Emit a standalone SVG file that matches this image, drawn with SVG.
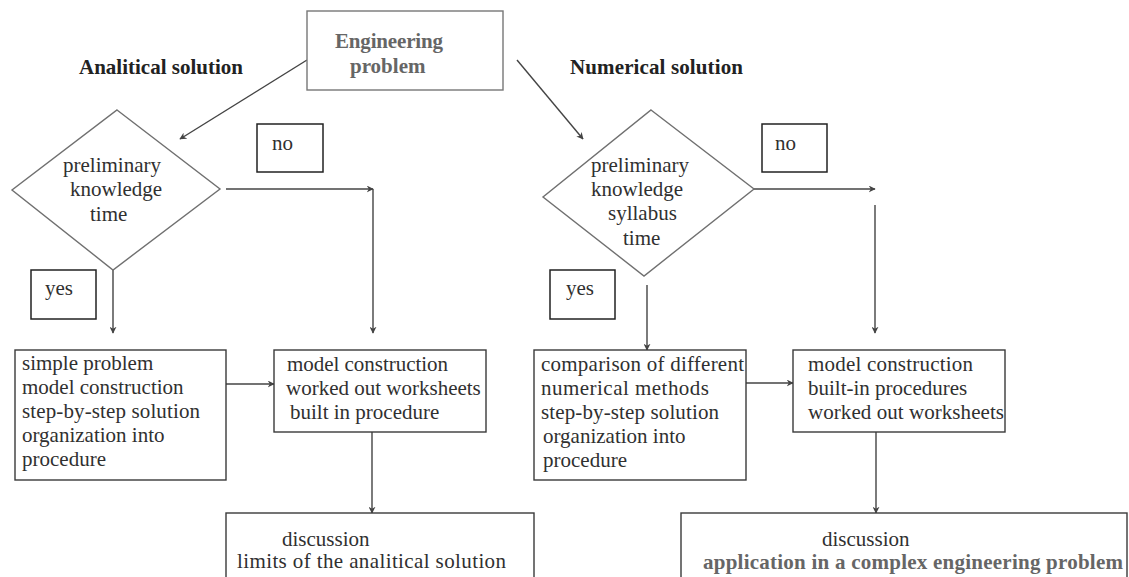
<svg xmlns="http://www.w3.org/2000/svg" width="1129" height="577" viewBox="0 0 1129 577">
<style>
.box{fill:#fff;stroke:#3a3a3a;stroke-width:1.4}
.dia{fill:#fff;stroke:#707070;stroke-width:1.4}
.lbl{fill:#fff;stroke:#222;stroke-width:1.5}
.t{font-family:"Liberation Serif","Times New Roman",serif;font-size:21px;fill:#303030}
.h{font-family:"Liberation Serif","Times New Roman",serif;font-size:21px;font-weight:bold;fill:#222}
.g{font-family:"Liberation Serif","Times New Roman",serif;font-size:21px;font-weight:bold;fill:#666}
.c{fill:none;stroke:#444;stroke-width:1.4}
</style>
<defs>
<marker id="ah" viewBox="0 0 10 10" refX="9" refY="5" markerWidth="7" markerHeight="7" markerUnits="userSpaceOnUse" orient="auto">
<path d="M0,0 L10,5 L0,10 L3,5 z" fill="#444"/>
</marker>
</defs>
<rect width="1129" height="577" fill="#fff"/>

<text class="h" x="79" y="74">Analitical solution</text>
<text class="h" x="570" y="74" textLength="173">Numerical  solution</text>

<g id="connectors">
<line class="c" x1="307" y1="60" x2="180" y2="139" marker-end="url(#ah)"/>
<line class="c" x1="517" y1="60" x2="583" y2="139" marker-end="url(#ah)"/>
<line class="c" x1="226" y1="189" x2="373" y2="189" marker-end="url(#ah)"/>
<line class="c" x1="373" y1="189" x2="373" y2="333" marker-end="url(#ah)"/>
<line class="c" x1="113" y1="270" x2="113" y2="333" marker-end="url(#ah)"/>
<line class="c" x1="754" y1="189" x2="875" y2="189" marker-end="url(#ah)"/>
<line class="c" x1="875" y1="205" x2="875" y2="333" marker-end="url(#ah)"/>
<line class="c" x1="647" y1="285" x2="647" y2="350" marker-end="url(#ah)"/>
<line class="c" x1="226" y1="384" x2="274" y2="384" marker-end="url(#ah)"/>
<line class="c" x1="746" y1="383" x2="793" y2="383" marker-end="url(#ah)"/>
<line class="c" x1="372" y1="432" x2="372" y2="513" marker-end="url(#ah)"/>
<line class="c" x1="876" y1="432" x2="876" y2="513" marker-end="url(#ah)"/>
</g>

<g id="engineering-problem">
<rect class="box" x="307" y="11" width="196" height="79" style="stroke:#777"/>
<text class="g" x="335" y="48" textLength="108">Engineering</text>
<text class="g" x="350" y="73">problem</text>
</g>

<g id="diamond-analytical">
<polygon class="dia" points="117,110 220,189 113,270 12,190"/>
<text class="t" x="63" y="172">preliminary</text>
<text class="t" x="70" y="196">knowledge</text>
<text class="t" x="90" y="221">time</text>
</g>

<g id="no-left">
<rect class="lbl" x="257" y="124" width="66" height="48"/>
<text class="t" x="272" y="150">no</text>
</g>

<g id="yes-left">
<rect class="lbl" x="31" y="270" width="65" height="49"/>
<text class="t" x="45" y="295">yes</text>
</g>

<g id="diamond-numerical">
<polygon class="dia" points="651,110 754,189 644,276 543,197"/>
<text class="t" x="591" y="172">preliminary</text>
<text class="t" x="591" y="196">knowledge</text>
<text class="t" x="608" y="220">syllabus</text>
<text class="t" x="623" y="245">time</text>
</g>

<g id="no-right">
<rect class="lbl" x="762" y="124" width="65" height="48"/>
<text class="t" x="775" y="150">no</text>
</g>

<g id="yes-right">
<rect class="lbl" x="550" y="270" width="65" height="49"/>
<text class="t" x="566" y="295">yes</text>
</g>

<g id="simple-problem">
<rect class="box" x="15" y="350" width="211" height="130"/>
<text class="t" x="22" y="370">simple problem</text>
<text class="t" x="22" y="394">model construction</text>
<text class="t" x="22" y="418" textLength="178">step-by-step solution</text>
<text class="t" x="22" y="442">organization into</text>
<text class="t" x="22" y="466">procedure</text>
</g>

<g id="model-analytical">
<rect class="box" x="274" y="350" width="212" height="82"/>
<text class="t" x="287" y="371" textLength="161">model construction</text>
<text class="t" x="286" y="395">worked out worksheets</text>
<text class="t" x="290" y="419">built in procedure</text>
</g>

<g id="comparison">
<rect class="box" x="534" y="350" width="212" height="130"/>
<text class="t" x="541" y="371" textLength="203">comparison  of different</text>
<text class="t" x="541" y="395" textLength="168">numerical   methods</text>
<text class="t" x="541" y="419" textLength="178">step-by-step  solution</text>
<text class="t" x="543" y="443">organization into</text>
<text class="t" x="543" y="467">procedure</text>
</g>

<g id="model-numerical">
<rect class="box" x="793" y="350" width="212" height="82"/>
<text class="t" x="808" y="371" textLength="165">model  construction</text>
<text class="t" x="808" y="395">built-in procedures</text>
<text class="t" x="808" y="419" textLength="196">worked out worksheets</text>
</g>

<g id="discussion-analytical">
<rect class="box" x="226" y="513" width="308" height="80"/>
<text class="t" x="282" y="546">discussion</text>
<text class="t" x="237" y="568" textLength="269">limits of the analitical  solution</text>
</g>

<g id="discussion-numerical">
<rect class="box" x="681" y="513" width="446" height="80"/>
<text class="t" x="822" y="546">discussion</text>
<text class="g" x="703" y="569" textLength="420">application in a complex  engineering problem</text>
</g>
</svg>
